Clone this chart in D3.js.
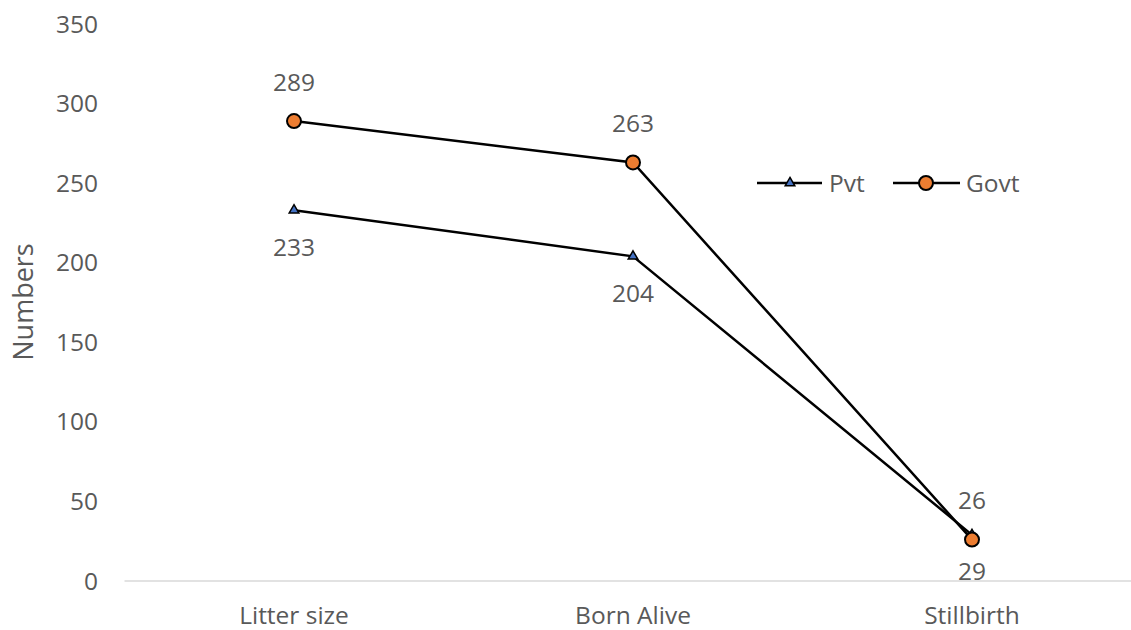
<!DOCTYPE html>
<html lang="en">
<head>
  <meta charset="utf-8">
  <title>Numbers</title>
  <script src="https://d3js.org/d3.v7.min.js"></script>
  <style>
    body { margin: 0; background: #fff; }
    text { font-family: "Open Sans", sans-serif; fill: #595959; }
  </style>
</head>
<body>
  <script type="text/javascript">
  var categories = ['Litter size', 'Born Alive', 'Stillbirth'];
  var pvt = [233, 204, 29];
  var govt = [289, 263, 26];
  var yTicks = [0, 50, 100, 150, 200, 250, 300, 350];

  var w = 1131, h = 630;
  var fs = '24.5px';
  var svg = d3.select('body').append('svg')
      .attr('width', w)
      .attr('height', h);

  var x = d3.scaleBand()
    .domain(categories)
    .range([124.5, 1141.5]);
  var y = d3.scaleLinear()
    .domain([0, 350])
    .range([581, 24]);
  var cx = function(c){ return x(c) + x.bandwidth() / 2; };

  // y tick labels
  svg.append('g').selectAll('text')
    .data(yTicks).enter().append('text')
      .attr('x', 98)
      .attr('y', function(d){ return y(d); })
      .attr('dy', '0.35em')
      .attr('text-anchor', 'end')
      .style('font-size', fs)
      .text(function(d){ return d; });

  // x axis line
  svg.append('line')
    .attr('x1', 124.5).attr('x2', 1131)
    .attr('y1', y(0)).attr('y2', y(0))
    .style('stroke', '#d9d9d9')
    .style('stroke-width', 1.5);

  svg.append('g').selectAll('text')
    .data(categories).enter().append('text')
      .attr('x', cx)
      .attr('y', 615)
      .attr('dy', '0.35em')
      .attr('text-anchor', 'middle')
      .style('font-size', fs)
      .text(function(d){ return d; });

  svg.append('text')
    .attr('transform', 'translate(24,' + 302 + ') rotate(-90)')
    .attr('dy', '0.35em')
    .attr('text-anchor', 'middle')
    .style('font-size', '27px')
    .text('Numbers');

  var line = d3.line()
    .x(function(d, i){ return cx(categories[i]); })
    .y(function(d){ return y(d); });

  var tri = d3.symbol().type(d3.symbolTriangle).size(40);

  function drawSeries(vals) {
    svg.append('path')
      .datum(vals)
      .style('fill', 'none')
      .style('stroke', '#000')
      .style('stroke-width', 2.5)
      .attr('d', line);
  }
  drawSeries(pvt);
  drawSeries(govt);

  svg.append('g').selectAll('path')
    .data(pvt).enter().append('path')
      .attr('d', tri)
      .attr('transform', function(d, i){ return 'translate(' + cx(categories[i]) + ',' + y(d) + ')'; })
      .style('fill', '#4472C4')
      .style('stroke', '#000')
      .style('stroke-width', 1.5);

  svg.append('g').selectAll('circle')
    .data(govt).enter().append('circle')
      .attr('cx', function(d, i){ return cx(categories[i]); })
      .attr('cy', function(d){ return y(d); })
      .attr('r', 7)
      .style('fill', '#ED7D31')
      .style('stroke', '#000')
      .style('stroke-width', 2);

  // data labels: Govt above, Pvt below
  svg.append('g').selectAll('text')
    .data(govt).enter().append('text')
      .attr('x', function(d, i){ return cx(categories[i]); })
      .attr('y', function(d){ return y(d) - 39; })
      .attr('dy', '0.35em')
      .attr('text-anchor', 'middle')
      .style('font-size', fs)
      .text(function(d){ return d; });
  svg.append('g').selectAll('text')
    .data(pvt).enter().append('text')
      .attr('x', function(d, i){ return cx(categories[i]); })
      .attr('y', function(d){ return y(d) + 37; })
      .attr('dy', '0.35em')
      .attr('text-anchor', 'middle')
      .style('font-size', fs)
      .text(function(d){ return d; });

  // legend
  var lg = svg.append('g');
  lg.append('line').attr('x1', 757).attr('x2', 822).attr('y1', 183).attr('y2', 183)
    .style('stroke', '#000').style('stroke-width', 2.5);
  lg.append('path').attr('d', tri).attr('transform', 'translate(790,183)')
    .style('fill', '#4472C4').style('stroke', '#000').style('stroke-width', 1.5);
  lg.append('text').attr('x', 829).attr('y', 183).attr('dy', '0.35em')
    .style('font-size', fs).text('Pvt');
  lg.append('line').attr('x1', 893).attr('x2', 960).attr('y1', 183).attr('y2', 183)
    .style('stroke', '#000').style('stroke-width', 2.5);
  lg.append('circle').attr('cx', 926).attr('cy', 183).attr('r', 7)
    .style('fill', '#ED7D31').style('stroke', '#000').style('stroke-width', 2);
  lg.append('text').attr('x', 966).attr('y', 183).attr('dy', '0.35em')
    .style('font-size', fs).text('Govt');
  </script>
</body>
</html>
